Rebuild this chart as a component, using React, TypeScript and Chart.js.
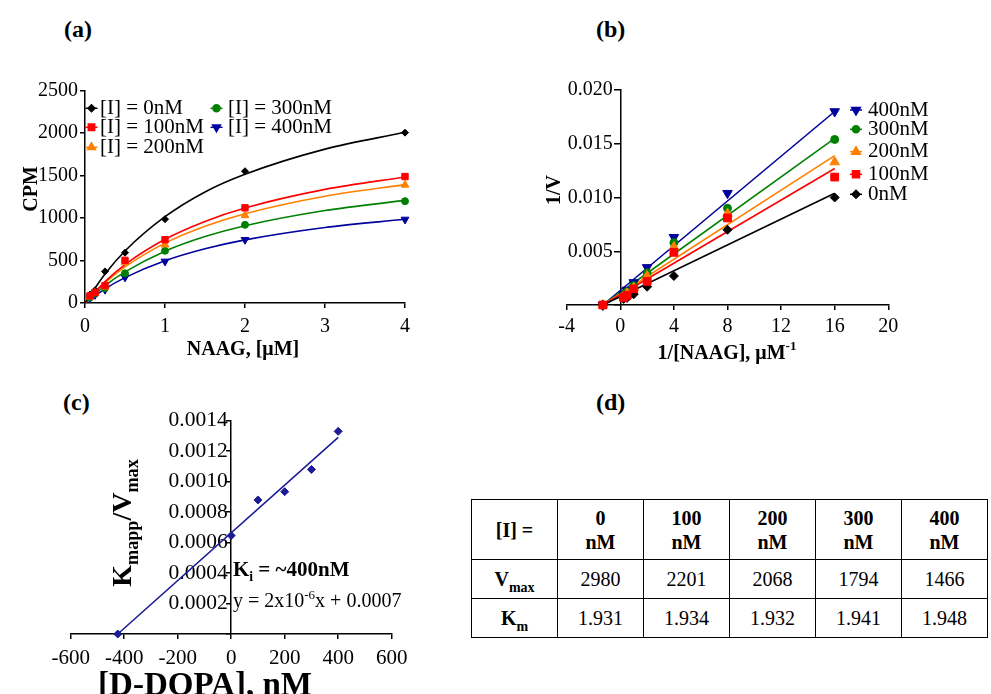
import React, { useEffect, useRef } from 'react';
import { Chart, registerables } from 'chart.js';
import { drawPoint } from 'chart.js/helpers';

Chart.register(...registerables);

const FONT = "'Liberation Serif', 'Times New Roman', serif";

// ---------- Panel (a): Michaelis-Menten ----------
const aSubstrate = [0.0625, 0.125, 0.25, 0.5, 1, 2, 4];
const a0nM = [100, 150, 372, 592, 987, 1552, 2006];
const a100nM = [84, 123, 205, 502, 745, 1121, 1489];
const a200nM = [75, 117, 190, 478, 686, 1031, 1391];
const a300nM = [65, 110, 175, 349, 615, 921, 1199];
const a400nM = [56, 96, 157, 302, 490, 745, 984];
const aFitX = [0, 0.25, 0.5, 1, 1.5, 2, 3, 4];
const aFit0nM = [0, 342, 613, 1016, 1308, 1516, 1812, 2010];
const aFit100nM = [0, 252, 452, 750, 961, 1119, 1338, 1484];
const aFit200nM = [0, 237, 425, 705, 904, 1052, 1258, 1394];
const aFit300nM = [0, 205, 367, 610, 782, 910, 1089, 1208];
const aFit400nM = [0, 167, 299, 497, 638, 743, 889, 986];
const aLegend = ['[I] = 0nM', '[I] = 100nM', '[I] = 200nM', '[I] = 300nM', '[I] = 400nM'];

// ---------- Panel (b): Lineweaver-Burk ----------
const bInvS = [16, 8, 4, 2, 1, 0.5, 0.25];
const b0nM = [0.0100, 0.0070, 0.0027, 0.0017, 0.0010, 0.00066, 0.00056];
const b100nM = [0.0119, 0.0081, 0.0049, 0.0022, 0.0015, 0.0009, 0.0007];
const b200nM = [0.0133, 0.0085, 0.0054, 0.0027, 0.0016, 0.0011, 0.0008];
const b300nM = [0.0154, 0.0090, 0.0058, 0.0030, 0.0018, 0.0012, 0.0009];
const b400nM = [0.0180, 0.0104, 0.0063, 0.0035, 0.0021, 0.0014, 0.0010];
const bIntercept = [-1.3, 0];
const bLineEndX = 16;
const bLineEnd = [0.0104, 0.0127, 0.0139, 0.0155, 0.0180];
const bLegend = ['400nM', '300nM', '200nM', '100nM', '0nM'];

// ---------- Panel (c): secondary plot ----------
const cDopa = [-424, 0, 100, 200, 300, 400];
const cRatio = [0, 0.000646, 0.00088, 0.000934, 0.00108, 0.00133];
const cFitX = [-424, 400];
const cFitY = [0, 0.00129];

// ---------- Panel (d): table ----------
const dConc = ['0', '100', '200', '300', '400'];
const dVmax = ['2980', '2201', '2068', '1794', '1466'];
const dKm = ['1.931', '1.934', '1.932', '1.941', '1.948'];

// styles for 0,100,200,300,400 nM
const COLORS = ['#000000', '#ff0000', '#ff8000', '#008000', '#00009c'];
const STYLES: any[] = [
  { pointStyle: 'rectRot', rotation: 0 },
  { pointStyle: 'rect', rotation: 0 },
  { pointStyle: 'triangle', rotation: 0 },
  { pointStyle: 'circle', rotation: 0 },
  { pointStyle: 'triangle', rotation: 180 },
];
const RAD_A = [3.5, 4.5, 4.5, 3.5, 4.5];
const RAD_B = [4.5, 5.5, 5.5, 4, 5.5];

type Seg = { t: string; s?: 'sub' | 'sup' };

function drawRich(ctx: CanvasRenderingContext2D, segs: Seg[], x: number, y: number, size: number, weight: string, align: 'left' | 'center', rot = false) {
  ctx.save();
  ctx.translate(x, y);
  if (rot) ctx.rotate(-Math.PI / 2);
  ctx.fillStyle = '#000';
  ctx.textBaseline = 'alphabetic';
  ctx.textAlign = 'left';
  const parts = segs.map((sg) => {
    const fs = sg.s ? size * 0.65 : size;
    ctx.font = `${weight} ${fs}px ${FONT}`;
    return { ...sg, fs, w: ctx.measureText(sg.t).width };
  });
  const total = parts.reduce((a, p) => a + p.w, 0);
  let cx = align === 'center' ? -total / 2 : 0;
  for (const p of parts) {
    ctx.font = `${weight} ${p.fs}px ${FONT}`;
    const dy = p.s === 'sub' ? size * 0.25 : p.s === 'sup' ? -size * 0.42 : 0;
    ctx.fillText(p.t, cx, dy);
    cx += p.w;
  }
  ctx.restore();
}

function legendItem(ctx: CanvasRenderingContext2D, idx: number, rad: number, mx: number, y: number, tx: number, label: string, size: number) {
  ctx.save();
  ctx.strokeStyle = COLORS[idx];
  ctx.fillStyle = COLORS[idx];
  ctx.lineWidth = 1.5;
  ctx.beginPath();
  ctx.moveTo(mx - 6, y);
  ctx.lineTo(mx + 6, y);
  ctx.stroke();
  drawPoint(ctx, { pointStyle: STYLES[idx].pointStyle, rotation: STYLES[idx].rotation, radius: rad, borderWidth: 1 } as any, mx, y);
  ctx.fillStyle = '#000';
  ctx.font = `${size}px ${FONT}`;
  ctx.textBaseline = 'middle';
  ctx.textAlign = 'left';
  ctx.fillText(label, tx, y);
  ctx.restore();
}

function axis(o: any) {
  return {
    type: 'linear',
    position: o.position,
    min: o.min,
    max: o.max,
    ticks: {
      stepSize: o.step,
      color: '#000',
      font: { family: FONT, size: o.size },
      padding: o.padding,
      autoSkip: false,
      maxRotation: 0,
      minRotation: 0,
      callback: o.callback || ((v: number) => String(v)),
    },
    grid: { display: true, drawOnChartArea: false, drawTicks: true, tickLength: o.tickLength, color: '#000', lineWidth: 1.5 },
    border: { display: true, color: '#000', width: 1.5 },
    afterFit: o.afterFit,
  };
}

// y axis crossing at x = 0: put its labels a fixed gap left of the axis line
function shiftYLabels(gap: number) {
  return {
    id: 'shiftY',
    beforeDraw(chart: any) {
      const ys = chart.scales.y;
      const x0 = chart.scales.x.getPixelForValue(0);
      const items = ys.getLabelItems();
      items.forEach((it: any) => {
        it.options.translation[0] = x0 - gap;
        it.options.textAlign = 'right';
      });
    },
  };
}

function pts(xs: number[], ys: number[]) {
  return xs.map((x, i) => ({ x, y: ys[i] }));
}

function pointSet(data: any[], idx: number, rad: number) {
  return {
    data,
    showLine: false,
    pointStyle: STYLES[idx].pointStyle,
    rotation: STYLES[idx].rotation,
    pointRadius: rad,
    pointBackgroundColor: COLORS[idx],
    pointBorderColor: COLORS[idx],
    pointBorderWidth: 1,
    clip: false,
  };
}

function lineSet(data: any[], idx: number, curve: boolean) {
  return {
    data,
    showLine: true,
    borderColor: COLORS[idx],
    borderWidth: 1.6,
    pointRadius: 0,
    fill: false,
    cubicInterpolationMode: curve ? 'monotone' : 'default',
    clip: false,
  };
}

const baseOptions = (padding: any, scales: any) => ({
  responsive: false,
  maintainAspectRatio: false,
  animation: false,
  events: [],
  layout: { padding },
  scales,
  plugins: { legend: { display: false }, tooltip: { enabled: false } },
});

function makeA() {
  const aPts = [a0nM, a100nM, a200nM, a300nM, a400nM];
  const aFits = [aFit0nM, aFit100nM, aFit200nM, aFit300nM, aFit400nM];
  const pointOrder = [1, 2, 0, 3, 4];
  const datasets: any[] = [
    ...pointOrder.map((i) => pointSet(pts(aSubstrate, aPts[i]), i, RAD_A[i])),
    ...[0, 1, 2, 3, 4].map((i) => lineSet(pts(aFitX, aFits[i]), i, true)),
  ];
  const deco = {
    id: 'decoA',
    afterDraw(chart: any) {
      const ctx = chart.ctx;
      drawRich(ctx, [{ t: 'CPM' }], 30 + 0.33 * 20, 119, 20, 'bold', 'center', true);
      drawRich(ctx, [{ t: 'NAAG, [μM]' }], 243, 278 + 6.6, 20, 'bold', 'center');
      const rows = [38.3, 57.3, 77.3];
      legendItem(ctx, 0, RAD_A[0], 91.5, rows[0], 100, aLegend[0], 21);
      legendItem(ctx, 1, RAD_A[1], 91.5, rows[1], 100, aLegend[1], 21);
      legendItem(ctx, 2, RAD_A[2], 91.5, rows[2], 100, aLegend[2], 21);
      legendItem(ctx, 3, RAD_A[3], 216.5, rows[0], 228, aLegend[3], 21);
      legendItem(ctx, 4, RAD_A[4], 216.5, rows[1], 228, aLegend[4], 21);
    },
  };
  return {
    type: 'scatter',
    data: { datasets },
    options: baseOptions({ left: 0, top: 20.7, right: 15, bottom: 0 }, {
      x: axis({ position: 'bottom', min: 0, max: 4, step: 1, size: 20, padding: 7, tickLength: 5, afterFit: (s: any) => { s.height = 67; } }),
      y: axis({ position: 'left', min: 0, max: 2500, step: 500, size: 20, padding: 2, tickLength: 5, afterFit: (s: any) => { s.width = 85; } }),
    }),
    plugins: [deco],
  };
}

function makeB() {
  const bPts = [b0nM, b100nM, b200nM, b300nM, b400nM];
  const pointOrder = [1, 0, 2, 3, 4];
  const datasets: any[] = [
    ...pointOrder.map((i) => pointSet([{ x: bIntercept[0], y: bIntercept[1] }, ...pts(bInvS, bPts[i])], i, RAD_B[i])),
    ...[0, 1, 2, 3, 4].map((i) => lineSet([{ x: bIntercept[0], y: bIntercept[1] }, { x: bLineEndX, y: bLineEnd[i] }], i, false)),
  ];
  const deco = {
    id: 'decoB',
    afterDraw(chart: any) {
      const ctx = chart.ctx;
      drawRich(ctx, [{ t: '1/V' }], 13 + 0.33 * 20, 120, 20, 'bold', 'center', true);
      drawRich(ctx, [{ t: '1/[NAAG], μM' }, { t: '-1', s: 'sup' }], 187, 282 + 6.6, 20, 'bold', 'center');
      const rows = [40, 59.3, 81.7, 104.3, 124.3];
      const idxs = [4, 3, 2, 1, 0];
      idxs.forEach((ci, r) => legendItem(ctx, ci, RAD_B[ci] - 0.5, 316, rows[r], 328, bLegend[r], 21));
    },
  };
  return {
    type: 'scatter',
    data: { datasets },
    options: baseOptions({ left: 26.7, top: 20, right: 102.7, bottom: 0 }, {
      x: axis({ position: 'bottom', min: -4, max: 20, step: 4, size: 20, padding: 5, tickLength: 5, afterFit: (s: any) => { s.height = 75; } }),
      y: axis({ position: { x: 0 }, min: 0, max: 0.02, step: 0.005, size: 20, padding: 1, tickLength: 6, callback: (v: number) => (v === 0 ? '' : v.toFixed(3)) }),
    }),
    plugins: [deco, shiftYLabels(7.5)],
  };
}

function makeC() {
  const datasets: any[] = [
    {
      data: pts(cDopa, cRatio),
      showLine: false,
      pointStyle: 'rectRot',
      pointRadius: 4,
      pointBackgroundColor: '#1c1c96',
      pointBorderColor: '#1c1c96',
      pointBorderWidth: 1,
      clip: false,
    },
    { data: pts(cFitX, cFitY), showLine: true, borderColor: '#1c1c96', borderWidth: 1.6, pointRadius: 0, fill: false, clip: false },
  ];
  const deco = {
    id: 'decoC',
    afterDraw(chart: any) {
      const ctx = chart.ctx;
      drawRich(ctx, [{ t: 'K' }, { t: 'mapp', s: 'sub' }, { t: '/V' }, { t: 'max', s: 'sub' }], 131, 123, 28, 'bold', 'center', true);
      drawRich(ctx, [{ t: '[D-DOPA], nM' }], 205, 295, 33, 'bold', 'center');
      drawRich(ctx, [{ t: 'K' }, { t: 'i', s: 'sub' }, { t: ' = ~400nM' }], 233, 176, 21, 'bold', 'left');
      drawRich(ctx, [{ t: 'y = 2x10' }, { t: '-6', s: 'sup' }, { t: 'x + 0.0007' }], 233, 207, 20, 'normal', 'left');
    },
  };
  return {
    type: 'scatter',
    data: { datasets },
    options: baseOptions({ left: 70.7, top: 20.7, right: 68.3, bottom: 0 }, {
      x: axis({ position: 'bottom', min: -600, max: 600, step: 200, size: 21, padding: 7, tickLength: 5, afterFit: (s: any) => { s.height = 60; } }),
      y: axis({ position: { x: 0 }, min: 0, max: 0.0014, step: 0.0002, size: 21.5, padding: 0, tickLength: 4, callback: (v: number) => (v === 0 ? '' : v.toFixed(4)) }),
    }),
    plugins: [deco, shiftYLabels(3.5)],
  };
}

function ChartBox({ left, top, width, height, make }: any) {
  const ref = useRef<HTMLCanvasElement>(null);
  useEffect(() => {
    const chart = new Chart(ref.current as HTMLCanvasElement, make());
    return () => chart.destroy();
  }, []);
  return (
    <canvas ref={ref} width={width} height={height} style={{ position: 'absolute', left, top, width, height }} />
  );
}

const labelStyle = (left: number, top: number): React.CSSProperties => ({
  position: 'absolute',
  left,
  top,
  fontFamily: FONT,
  fontWeight: 'bold',
  fontSize: 24,
  lineHeight: '24px',
  color: '#000',
  whiteSpace: 'nowrap',
});

const cell: React.CSSProperties = {
  border: '1.5px solid #000',
  padding: 0,
  textAlign: 'center',
  verticalAlign: 'middle',
  lineHeight: '24px',
};

const subStyle: React.CSSProperties = { fontSize: 14, verticalAlign: -6, lineHeight: 0 };

export default function App() {
  return (
    <div style={{ position: 'fixed', left: 0, top: 0, width: 991, height: 694, background: '#fff', overflow: 'hidden' }}>
      <div style={labelStyle(64, 17)}>(a)</div>
      <div style={labelStyle(596, 17)}>(b)</div>
      <div style={labelStyle(63, 390)}>(c)</div>
      <div style={labelStyle(596, 390)}>(d)</div>
      <ChartBox left={0} top={70} width={420} height={300} make={makeA} />
      <ChartBox left={540} top={70} width={451} height={310} make={makeB} />
      <ChartBox left={0} top={400} width={460} height={294} make={makeC} />
      <table
        style={{
          position: 'absolute',
          left: 471,
          top: 499,
          borderCollapse: 'collapse',
          tableLayout: 'fixed',
          fontFamily: FONT,
          fontSize: 20,
          color: '#000',
          width: 516,
        }}
      >
        <colgroup>
          {[0, 1, 2, 3, 4, 5].map((i) => (
            <col key={i} style={{ width: 86 }} />
          ))}
        </colgroup>
        <tbody>
          <tr style={{ height: 60 }}>
            <th style={cell}>[I] =</th>
            {dConc.map((c) => (
              <th key={c} style={cell}>
                {c}
                <br />
                nM
              </th>
            ))}
          </tr>
          <tr style={{ height: 39 }}>
            <th style={cell}>
              V<span style={subStyle}>max</span>
            </th>
            {dVmax.map((v, i) => (
              <td key={i} style={cell}>{v}</td>
            ))}
          </tr>
          <tr style={{ height: 39 }}>
            <th style={cell}>
              K<span style={subStyle}>m</span>
            </th>
            {dKm.map((v, i) => (
              <td key={i} style={cell}>{v}</td>
            ))}
          </tr>
        </tbody>
      </table>
    </div>
  );
}
